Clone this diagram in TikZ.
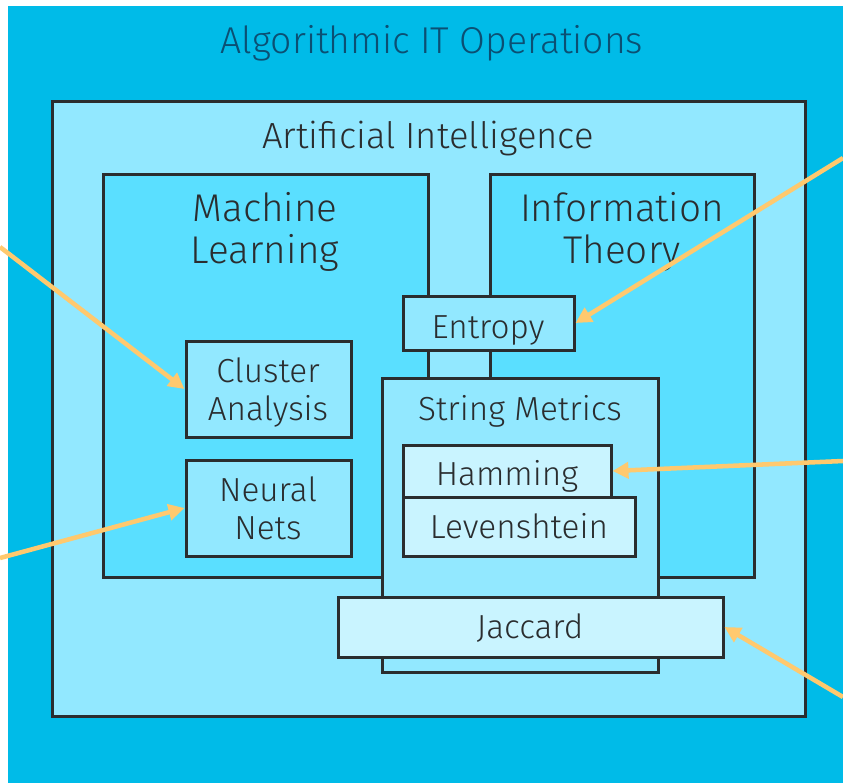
\documentclass[tikz,border=0pt]{standalone}
\usepackage{fontspec}
\setmainfont{Fira Sans}[UprightFont=* Light]
\usetikzlibrary{arrows.meta,fit}
\definecolor{aiops}{HTML}{00BBE8}
\definecolor{aifill}{HTML}{92E8FF}
\definecolor{fieldfill}{HTML}{5ADFFF}
\definecolor{metricfill}{HTML}{C9F4FF}
\definecolor{edge}{HTML}{2A2D2F}
\definecolor{pointer}{HTML}{FFC96E}
\definecolor{titleblue}{HTML}{0B4F73}

\begin{document}
\begin{tikzpicture}[x=0.75pt,y=-0.75pt,
    box/.style={draw=edge,line width=2.25pt,inner sep=0pt},
    lbl/.style={text=edge,align=center,anchor=base,inner sep=0pt,font=\fontsize{29}{31}\selectfont},
    small/.style={font=\fontsize{25}{28}\selectfont},
    ptr/.style={draw=pointer,line width=3.4pt,-{Triangle[length=12pt,width=12pt]}}]%
    \useasboundingbox[fill=white] (0,0) rectangle (843,783);
    \fill[aiops] (8,6) rectangle (843,783);
    \node[lbl,titleblue,font=\fontsize{28}{32}\selectfont] (aiopslbl) at (432,53) {Algorithmic IT Operations};
    % nested fields
    \node[box,fill=aifill,fit={(52,101) (805,716)}] (ai) {};
    \node[lbl,font=\fontsize{27.3}{31}\selectfont] (ailbl) at (428,148) {Artificial Intelligence};
    \node[box,fill=fieldfill,fit={(103,174) (428,577)}] (ml) {};
    \node[lbl] (mllbl) at (265,263) {Machine\\Learning};
    \node[box,fill=fieldfill,fit={(490,174) (754,577)}] (it) {};
    \node[lbl] (itlbl) at (622,263) {Information\\Theory};
    \node[box,fill=aifill,fit={(382,378) (658,672)}] (sm) {};
    \node[lbl,small] (smlbl) at (520,420) {String Metrics};
    % leaves
    \node[box,fill=aifill,fit={(403,296) (574,350)}] (ent) {};
    \node[lbl,small] (entlbl) at (488,338) {Entropy};
    \node[box,fill=aifill,fit={(186,341) (351,437)}] (clu) {};
    \node[lbl,small] (clulbl) at (268,420) {Cluster\\Analysis};
    \node[box,fill=aifill,fit={(186,460) (351,556)}] (neu) {};
    \node[lbl,small] (neulbl) at (268,539) {Neural\\Nets};
    \node[box,fill=metricfill,fit={(403,445) (611,497)}] (ham) {};
    \node[lbl,small] (hamlbl) at (507,485) {Hamming};
    \node[box,fill=metricfill,fit={(403,497) (635,556)}] (lev) {};
    \node[lbl,small] (levlbl) at (519,538) {Levenshtein};
    \node[box,fill=metricfill,fit={(338,597) (723,657)}] (jac) {};
    \node[lbl,small] (jaclbl) at (530,638) {Jaccard};
    % pointers
    \coordinate (p1) at (0,247);
    \coordinate (p2) at (0,558);
    \coordinate (p3) at (843,158);
    \coordinate (p4) at (843,461);
    \coordinate (p5) at (843,697);
    \draw[ptr] (p1) -- (clu.west);
    \draw[ptr] (p2) -- (neu.west);
    \draw[ptr] (p3) -- (ent.east);
    \draw[ptr] (p4) -- (ham.east);
    \draw[ptr] (p5) -- (jac.east);
\end{tikzpicture}
\end{document}
